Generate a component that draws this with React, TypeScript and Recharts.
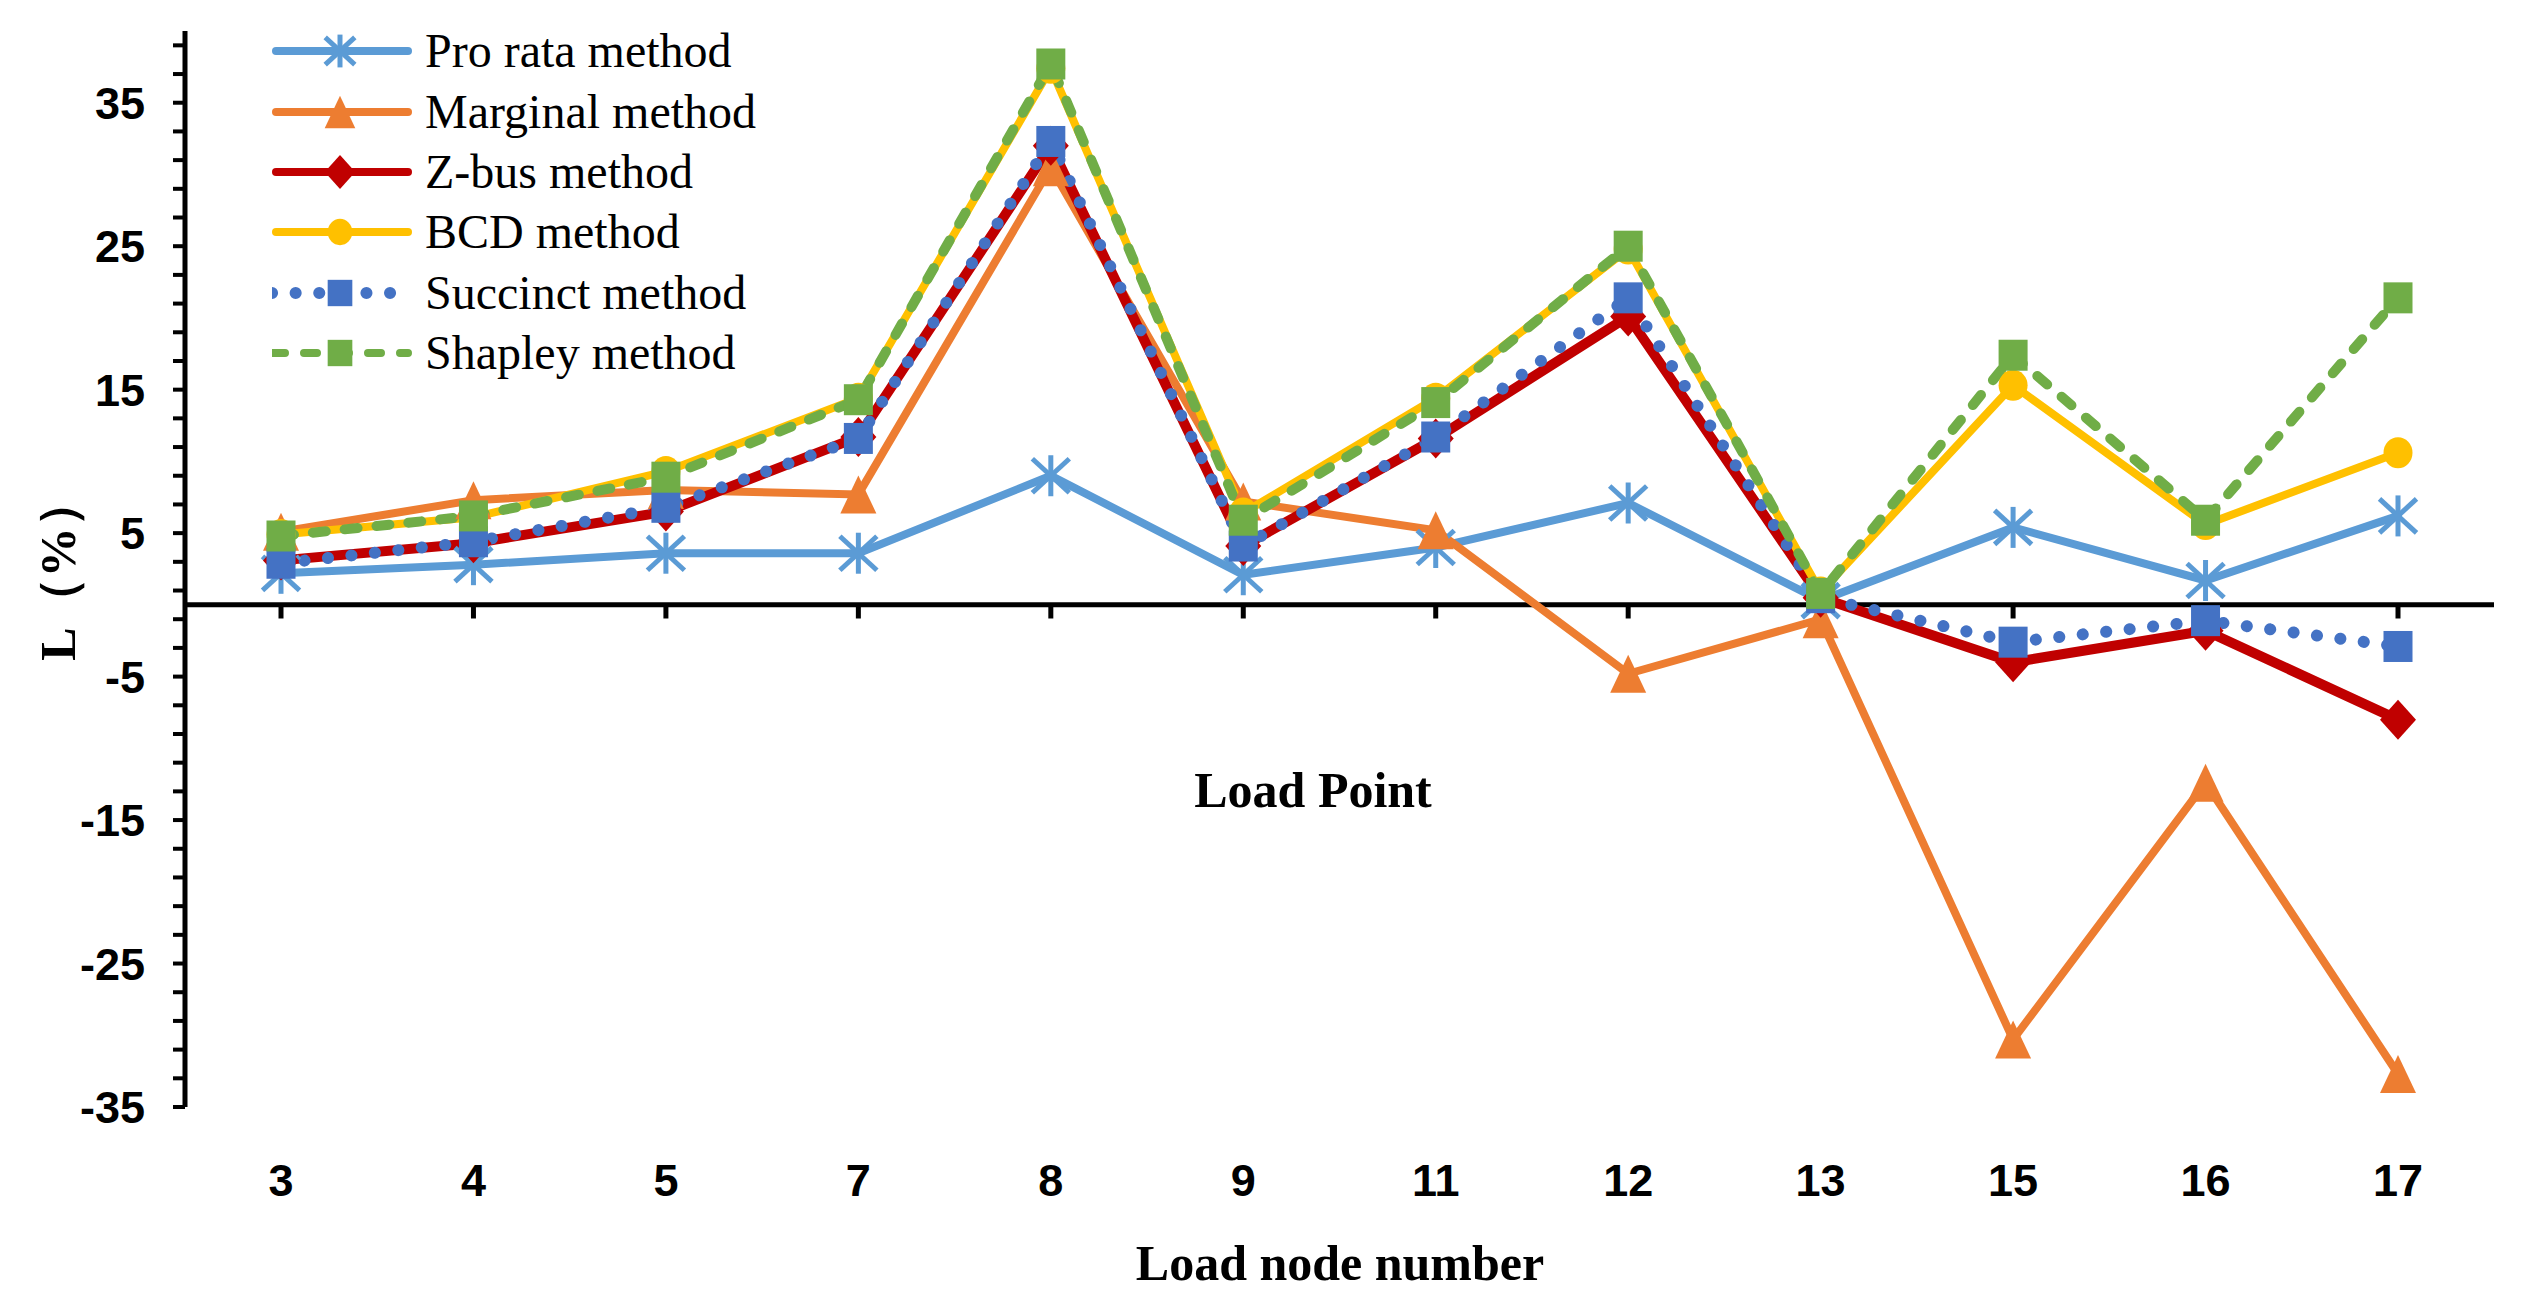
import React from 'react';
import { LineChart, Line, XAxis, YAxis, ReferenceLine, Legend } from 'recharts';

// load nodes on the category axis
const nodes = ['3', '4', '5', '7', '8', '9', '11', '12', '13', '15', '16', '17'];

// L (%) per method
const proRata = [2.2, 2.8, 3.6, 3.6, 9.0, 2.1, 4.0, 7.1, 0.3, 5.4, 1.7, 6.2];
const marginal = [5.1, 7.3, 8.0, 7.7, 30.5, 7.2, 5.2, -4.8, -1.0, -30.3, -12.4, -32.7];
const zBus = [3.1, 4.3, 6.5, 11.7, 32.0, 4.1, 11.6, 20.1, 0.5, -4.0, -1.8, -8.0];
const bcd = [4.9, 6.1, 9.3, 14.4, 37.4, 6.4, 14.4, 24.8, 0.9, 15.3, 5.6, 10.6];
const succinct = [2.9, 4.4, 6.8, 11.6, 32.3, 4.1, 11.7, 21.4, 0.5, -2.6, -1.1, -2.9];
const shapley = [4.8, 6.2, 8.9, 14.3, 37.7, 5.9, 14.1, 25.0, 0.8, 17.4, 5.9, 21.4];

const yTicks = [-35, -33, -31, -29, -27, -25, -23, -21, -19, -17, -15, -13, -11, -9, -7, -5, -3, -1,
    1, 3, 5, 7, 9, 11, 13, 15, 17, 19, 21, 23, 25, 27, 29, 31, 33, 35, 37, 39];
const yLabels = [-35, -25, -15, -5, 5, 15, 25, 35];

const data = nodes.map((node, i) => ({
    node,
    proRata: proRata[i],
    marginal: marginal[i],
    zBus: zBus[i],
    bcd: bcd[i],
    succinct: succinct[i],
    shapley: shapley[i],
}));

type MarkerProps = { cx: number; cy: number; color: string; s?: number };

const Star = ({ cx, cy, color, s = 1 }: MarkerProps) => {
    const w = 18.5 * s;
    const h = 20.5 * s;
    const d = 17 * s;
    return (
        <g stroke={color} strokeWidth={5}>
            <line x1={cx} y1={cy - h} x2={cx} y2={cy + h} />
            <line x1={cx - w} y1={cy - d} x2={cx + w} y2={cy + d} />
            <line x1={cx - w} y1={cy + d} x2={cx + w} y2={cy - d} />
        </g>
    );
};

const Triangle = ({ cx, cy, color, s = 1 }: MarkerProps) => (
    <polygon
        points={`${cx},${cy - 19 * s} ${cx + 18 * s},${cy + 19 * s} ${cx - 18 * s},${cy + 19 * s}`}
        fill={color}
    />
);

const Diamond = ({ cx, cy, color, s = 1 }: MarkerProps) => (
    <polygon
        points={`${cx},${cy - 20 * s} ${cx + 18 * s},${cy} ${cx},${cy + 20 * s} ${cx - 18 * s},${cy}`}
        fill={color}
    />
);

const Circle = ({ cx, cy, color, s = 1 }: MarkerProps) => (
    <ellipse cx={cx} cy={cy} rx={14.5 * s} ry={15.5 * s} fill={color} />
);

const Square = ({ cx, cy, color, s = 1 }: MarkerProps) => (
    <rect x={cx - 14.5 * s} y={cy - 15.5 * s} width={29 * s} height={31 * s} fill={color} />
);

const series = [
    { key: 'proRata', name: 'Pro rata method', color: '#5B9BD5', width: 8, dash: undefined, Marker: Star },
    { key: 'marginal', name: 'Marginal method', color: '#ED7D31', width: 8, dash: undefined, Marker: Triangle },
    { key: 'zBus', name: 'Z-bus method', color: '#C00000', width: 10, dash: undefined, Marker: Diamond },
    { key: 'bcd', name: 'BCD method', color: '#FFC000', width: 8, dash: undefined, Marker: Circle },
    { key: 'succinct', name: 'Succinct method', color: '#4472C4', width: 12, dash: '0.1 23.5', Marker: Square },
    { key: 'shapley', name: 'Shapley method', color: '#70AD47', width: 10, dash: '13 19', Marker: Square },
];

const serif = '"Liberation Serif", "Times New Roman", serif';
const sans = '"Liberation Sans", Arial, sans-serif';

const LegendBox = () => (
    <div style={{ fontFamily: serif, fontSize: 48, color: '#000' }}>
        {series.map((s) => (
            <div key={s.key} style={{ display: 'flex', alignItems: 'center', height: 60.4 }}>
                <svg width={140} height={50} style={{ display: 'block' }}>
                    <line
                        x1={s.dash ? 0 : 4}
                        y1={25}
                        x2={136}
                        y2={25}
                        stroke={s.color}
                        strokeWidth={s.key === 'succinct' ? 12 : 8}
                        strokeDasharray={s.dash}
                        strokeLinecap="round"
                    />
                    <s.Marker cx={68} cy={25} color={s.color} s={s.key === 'proRata' ? 0.8 : 0.85} />
                </svg>
                <span style={{ marginLeft: 13, whiteSpace: 'nowrap', lineHeight: 1 }}>{s.name}</span>
            </div>
        ))}
    </div>
);

const XTick = ({ x, y, payload }: any) => (
    <text
        x={x}
        y={y + 73}
        textAnchor="middle"
        dominantBaseline="central"
        fontFamily={sans}
        fontWeight="bold"
        fontSize={45}
        fill="#000"
    >
        {payload.value}
    </text>
);

const App: React.FC = () => {
    return (
        <div style={{ position: 'absolute', left: 0, top: 0, width: 2524, height: 1302, background: '#fff' }}>
            <LineChart width={2524} height={1302} data={data} margin={{ top: 31, right: 30, left: 0, bottom: 0 }}>
                <XAxis
                    dataKey="node"
                    type="category"
                    padding={{ left: 96, right: 96 }}
                    height={195}
                    axisLine={false}
                    tickLine={false}
                    tickSize={0}
                    tickMargin={0}
                    interval={0}
                    tick={<XTick />}
                />
                <YAxis
                    type="number"
                    domain={[-35, 40]}
                    ticks={yTicks}
                    interval={0}
                    width={185}
                    axisLine={{ stroke: '#000', strokeWidth: 5 }}
                    tickLine={{ stroke: '#000', strokeWidth: 4 }}
                    tickSize={12}
                    tickMargin={28}
                    tickFormatter={(v: number) => (yLabels.includes(v) ? String(v) : '')}
                    tick={{ fontFamily: sans, fontWeight: 'bold', fontSize: 45, fill: '#000' }}
                />
                <ReferenceLine y={0} stroke="#000" strokeWidth={5} />
                {nodes.map((n) => (
                    <ReferenceLine
                        key={`t-${n}`}
                        segment={[{ x: n, y: 0 }, { x: n, y: -0.95 }]}
                        stroke="#000"
                        strokeWidth={5}
                    />
                ))}
                <Legend
                    layout="vertical"
                    align="center"
                    verticalAlign="middle"
                    wrapperStyle={{ top: 21, left: 272, width: 600 }}
                    content={() => <LegendBox />}
                />
                {series.map((s) => (
                    <Line
                        key={s.key}
                        dataKey={s.key}
                        name={s.name}
                        type="linear"
                        stroke={s.color}
                        strokeWidth={s.width}
                        strokeDasharray={s.dash}
                        strokeLinecap="round"
                        isAnimationActive={false}
                        activeDot={false}
                        dot={(p: any) => <s.Marker key={`${s.key}-${p.index}`} cx={p.cx} cy={p.cy} color={s.color} />}
                    />
                ))}
            </LineChart>
            <div
                style={{
                    position: 'absolute',
                    left: 58,
                    top: 569,
                    transform: 'translate(-50%, -50%) rotate(-90deg)',
                    fontFamily: serif,
                    fontWeight: 'bold',
                    fontSize: 50,
                    whiteSpace: 'nowrap',
                    lineHeight: 1,
                }}
            >
                L（%）
            </div>
            <div
                style={{
                    position: 'absolute',
                    left: 1340,
                    top: 1263,
                    transform: 'translate(-50%, -50%)',
                    fontFamily: serif,
                    fontWeight: 'bold',
                    fontSize: 50,
                    whiteSpace: 'nowrap',
                    lineHeight: 1,
                }}
            >
                Load node number
            </div>
            <div
                style={{
                    position: 'absolute',
                    left: 1313,
                    top: 790,
                    transform: 'translate(-50%, -50%)',
                    fontFamily: serif,
                    fontWeight: 'bold',
                    fontSize: 50,
                    whiteSpace: 'nowrap',
                    lineHeight: 1,
                }}
            >
                Load Point
            </div>
        </div>
    );
};

export default App;
